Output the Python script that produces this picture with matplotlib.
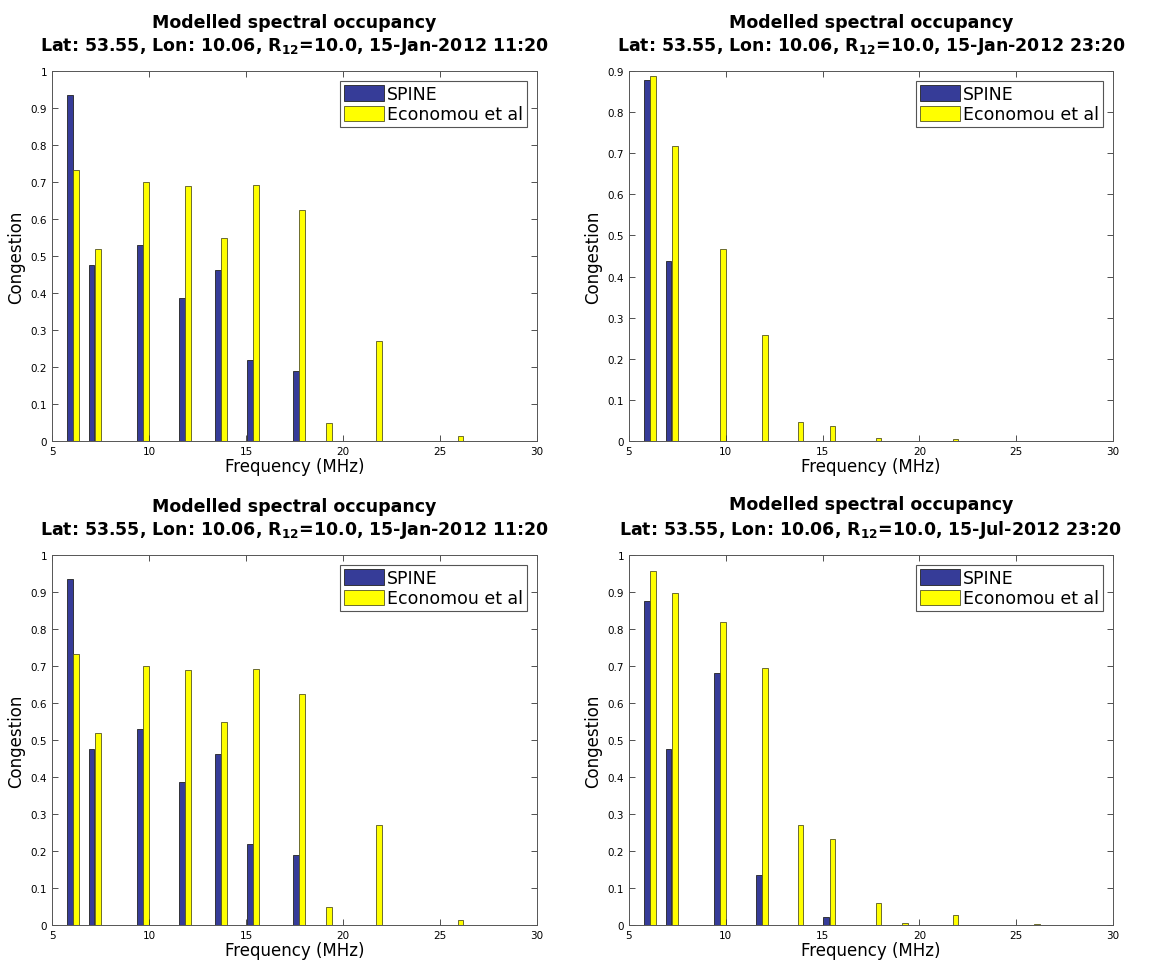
"""Modelled spectral occupancy: SPINE vs Economou et al, four panels."""

import matplotlib
matplotlib.use("Agg")
import matplotlib.pyplot as plt

# broadcast band centre frequencies (MHz)
freqs = [6.07, 7.2, 9.7, 11.87, 13.7, 15.35, 17.73, 19.1, 21.7, 25.9]

# panel 1 / 3 : 15-Jan-2012 11:20
spine_jan_day = [0.935, 0.477, 0.529, 0.386, 0.462, 0.220, 0.189, 0.0, 0.0, 0.0]
econ_jan_day = [0.733, 0.520, 0.699, 0.689, 0.548, 0.691, 0.625, 0.048, 0.270, 0.013]

# panel 2 : 15-Jan-2012 23:20
spine_jan_night = [0.877, 0.438, 0.0, 0.0, 0.0, 0.0, 0.0, 0.0, 0.0, 0.0]
econ_jan_night = [0.889, 0.717, 0.467, 0.257, 0.047, 0.037, 0.007, 0.001, 0.005, 0.001]

# panel 4 : 15-Jul-2012 23:20
spine_jul_night = [0.875, 0.477, 0.680, 0.134, 0.0, 0.022, 0.0, 0.0, 0.0, 0.0]
econ_jul_night = [0.956, 0.898, 0.819, 0.695, 0.271, 0.233, 0.059, 0.006, 0.028, 0.003]

titles = [
    "15-Jan-2012 11:20",
    "15-Jan-2012 23:20",
    "15-Jan-2012 11:20",
    "15-Jul-2012 23:20",
]
ylims = [1.0, 0.9, 1.0, 1.0]
panels = [
    (spine_jan_day, econ_jan_day),
    (spine_jan_night, econ_jan_night),
    (spine_jan_day, econ_jan_day),
    (spine_jul_night, econ_jul_night),
]

BLUE = "#363c98"
YELLOW = "#ffff00"
W = 0.3
OFF = 0.16

fig = plt.figure(figsize=(11.54, 9.62), dpi=100)
# axes boxes in pixels: left, top, right, bottom
boxes = [
    (52, 72, 537, 442),
    (629, 72, 1113, 442),
    (52, 556, 537, 926),
    (629, 556, 1113, 926),
]
FW, FH = 1154, 962

for (l, t, r, b), title, ymax, (spine, econ) in zip(boxes, titles, ylims, panels):
    ax = fig.add_axes([l / FW, 1 - b / FH, (r - l) / FW, (b - t) / FH])
    xs = [f - OFF for f in freqs]
    xe = [f + OFF for f in freqs]
    ax.bar(xs, spine, width=W, color=BLUE, edgecolor="#222222", linewidth=0.6,
           label="SPINE")
    ax.bar(xe, econ, width=W, color=YELLOW, edgecolor="#555522", linewidth=0.6,
           label="Economou et al")
    ax.set_xlim(5, 30)
    ax.set_ylim(0, ymax)
    ax.set_xticks(range(5, 31, 5))
    n = int(round(ymax * 10))
    yt = [i / 10 for i in range(n + 1)]
    ax.set_yticks(yt)
    ax.set_yticklabels(["0" if v == 0 else ("1" if v == 1 else f"{v:g}") for v in yt])
    ax.tick_params(direction="in", top=True, right=True, labelsize=7.5,
                   length=4, width=0.6, colors="#333333", labelcolor="black")
    for s in ax.spines.values():
        s.set_color("#555555")
        s.set_linewidth(0.7)
    ax.set_xlabel("Frequency (MHz)", fontsize=12, labelpad=1)
    ax.set_ylabel("Congestion", fontsize=12, labelpad=4)
    ax.set_title("Modelled spectral occupancy\n"
                 r"Lat: 53.55, Lon: 10.06, R$_{\mathbf{12}}$=10.0, " + title,
                 fontsize=12.5, fontweight="bold", pad=15, linespacing=1.3)
    leg = ax.legend(loc="upper right", fontsize=12.5, fancybox=False,
                    borderaxespad=0.6, handlelength=2.3, handleheight=1.0,
                    handletextpad=0.2, borderpad=0.2, labelspacing=0.15,
                    framealpha=1)
    leg.get_frame().set_edgecolor("#555555")
    leg.get_frame().set_linewidth(0.8)

fig.savefig("out.png", dpi=100)
plt.close(fig)
